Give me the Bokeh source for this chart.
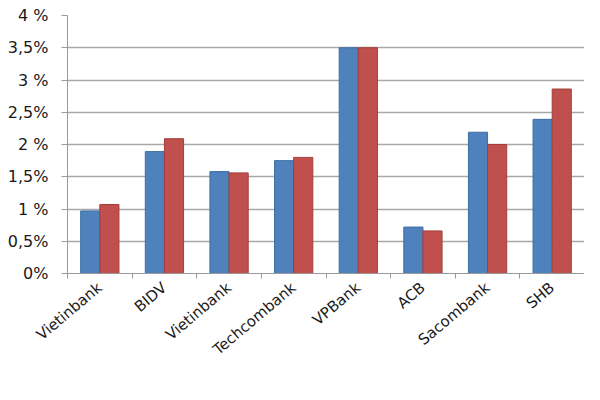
import math
from bokeh.plotting import figure
from bokeh.models import FixedTicker, Legend, LegendItem, ColumnDataSource, Range1d
from bokeh.embed import file_html
from bokeh.resources import INLINE

banks = ["Vietinbank", "BIDV", "Vietinbank", "Techcombank", "VPBank", "ACB", "Sacombank", "SHB"]
nam_2018 = [0.97, 1.89, 1.58, 1.75, 3.50, 0.72, 2.19, 2.39]
sep_2019 = [1.07, 2.09, 1.56, 1.80, 3.50, 0.66, 2.00, 2.86]
y_ticks = [0, 0.5, 1, 1.5, 2, 2.5, 3, 3.5, 4]
y_labels = ["0%", "0,5%", "1 %", "1,5%", "2 %", "2,5%", "3 %", "3,5%", "4 %"]
series_names = ["Năm 2018", "30/9/2019"]

idx = list(range(len(banks)))
src = ColumnDataSource(dict(
    x1=[i - 0.148 for i in idx], x2=[i + 0.148 for i in idx],
    a=nam_2018, b=sep_2019))

p = figure(frame_width=517, frame_height=258, output_backend="svg", toolbar_location=None,
           x_range=Range1d(-0.5, len(banks) - 0.5), y_range=Range1d(0, 4),
           min_border_left=67, min_border_right=0, min_border_top=15, min_border_bottom=0)
p.outline_line_color = None
p.background_fill_color = "white"

r1 = p.vbar(x="x1", top="a", width=0.296, source=src, fill_color="#4F81BD", line_color="#3D6DA6", line_width=1)
r2 = p.vbar(x="x2", top="b", width=0.296, source=src, fill_color="#C0504D", line_color="#A33E3B", line_width=1)

# axes
p.xaxis.ticker = FixedTicker(ticks=idx, minor_ticks=[i - 0.5 for i in range(len(banks) + 1)])
p.xaxis.major_label_overrides = {i: b for i, b in enumerate(banks)}
p.xaxis.major_tick_line_color = None
p.xaxis.minor_tick_line_color = "#9a9a9a"
p.xaxis.minor_tick_out = 5
p.xaxis.minor_tick_in = 0
p.xaxis.axis_line_color = "#9a9a9a"
p.xaxis.major_label_orientation = 0.70
p.xaxis.major_label_text_font = "DejaVu Sans"
p.xaxis.major_label_text_font_size = "15px"
p.xaxis.major_label_text_color = "#1a1a1a"
p.xaxis.major_label_standoff = 6

p.yaxis.ticker = FixedTicker(ticks=y_ticks, minor_ticks=[])
p.yaxis.major_label_overrides = {t: l for t, l in zip(y_ticks, y_labels)}
p.yaxis.axis_line_color = "#9a9a9a"
p.yaxis.major_tick_line_color = "#9a9a9a"
p.yaxis.major_tick_out = 6
p.yaxis.major_tick_in = 0
p.yaxis.major_label_text_font = "DejaVu Sans"
p.yaxis.major_label_text_font_size = "16px"
p.yaxis.major_label_text_color = "#1a1a1a"
p.yaxis.major_label_standoff = 13

p.xgrid.grid_line_color = None
p.ygrid.ticker = FixedTicker(ticks=y_ticks)
p.ygrid.grid_line_color = "#a8a8a8"
p.ygrid.grid_line_width = 1.5

legend = Legend(items=[LegendItem(label=series_names[0], renderers=[r1]),
                       LegendItem(label=series_names[1], renderers=[r2])],
                orientation="horizontal", location="center",
                label_text_font="DejaVu Sans", label_text_font_size="17px",
                label_text_color="#1a1a1a", label_width=164,
                glyph_width=11, glyph_height=11, label_standoff=6, spacing=0,
                padding=0, margin=-9, border_line_color=None, background_fill_alpha=0)
p.add_layout(legend, "below")

open("out.html", "w").write(file_html(p, INLINE))
